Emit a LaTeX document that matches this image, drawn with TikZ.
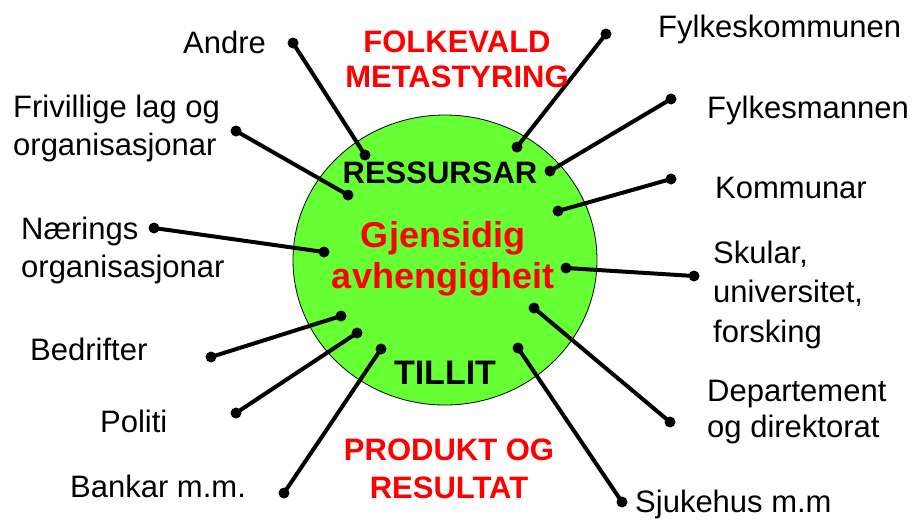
\documentclass[tikz,border=0pt]{standalone}
\usepackage{fontspec}
\setmainfont{Liberation Sans}
\usetikzlibrary{shapes.geometric}
\definecolor{hubgreen}{RGB}{102, 255, 51}
\definecolor{hubred}{RGB}{255, 0, 0}
\tikzset{
    hub/.style={
        ellipse,
        draw=black,
        line width=0.8pt,
        fill=hubgreen,
        minimum width=304pt,
        minimum height=290pt
    },
    actor/.style={
        anchor=base west,
        align=left,
        inner sep=0pt,
        font=\fontsize{31}{38}\selectfont
    },
    keyword/.style={
        anchor=base,
        align=center,
        inner sep=0pt,
        font=\bfseries\fontsize{31}{36}\selectfont
    },
    dot/.style={
        circle,
        fill=black,
        inner sep=0pt,
        minimum size=11pt
    },
    link/.style={
        line width=4pt
    }
}
\begin{document}
\begin{tikzpicture}[x=1pt, y=-1pt]
    \useasboundingbox (0,0) rectangle (915,520);
    \node[hub] (hub) at (445,260) {};

    % dots on the hub
    \node[dot] (andreIn)  at (365,155) {};
    \node[dot] (frivIn)   at (348,195) {};
    \node[dot] (naerIn)   at (324,252) {};
    \node[dot] (bedrIn)   at (341,316) {};
    \node[dot] (politiIn) at (357,333) {};
    \node[dot] (bankIn)   at (381,349) {};
    \node[dot] (fkIn)     at (517,147) {};
    \node[dot] (fmIn)     at (550,171) {};
    \node[dot] (kommIn)   at (558,211) {};
    \node[dot] (skuleIn)  at (566,268) {};
    \node[dot] (depIn)    at (534,308) {};
    \node[dot] (sjukIn)   at (518,348) {};

    % dots at the labels
    \node[dot] (andreOut)  at (293,43) {};
    \node[dot] (frivOut)   at (236,131) {};
    \node[dot] (naerOut)   at (154,228) {};
    \node[dot] (bedrOut)   at (211,357) {};
    \node[dot] (politiOut) at (236,413) {};
    \node[dot] (bankOut)   at (284,493) {};
    \node[dot] (fkOut)     at (606,34) {};
    \node[dot] (fmOut)     at (671,99) {};
    \node[dot] (kommOut)   at (671,179) {};
    \node[dot] (skuleOut)  at (694,276) {};
    \node[dot] (depOut)    at (670,422) {};
    \node[dot] (sjukOut)   at (622,502) {};

    \draw[link] (andreOut.center) -- (andreIn.center);
    \draw[link] (frivOut.center) -- (frivIn.center);
    \draw[link] (naerOut.center) -- (naerIn.center);
    \draw[link] (bedrOut.center) -- (bedrIn.center);
    \draw[link] (politiOut.center) -- (politiIn.center);
    \draw[link] (bankOut.center) -- (bankIn.center);
    \draw[link] (fkOut.center) -- (fkIn.center);
    \draw[link] (fmOut.center) -- (fmIn.center);
    \draw[link] (kommOut.center) -- (kommIn.center);
    \draw[link] (skuleOut.center) -- (skuleIn.center);
    \draw[link] (depOut.center) -- (depIn.center);
    \draw[link] (sjukOut.center) -- (sjukIn.center);

    % actors (base = last line)
    \node[actor] (andre)  at (183,53) {Andre};
    \node[actor] (friv)   at (13,155) {Frivillige lag og\\organisasjonar};
    \node[actor] (naer)   at (21,277) {Nærings\\organisasjonar};
    \node[actor] (bedr)   at (30,360) {Bedrifter};
    \node[actor] (politi) at (100,432) {Politi};
    \node[actor] (bank)   at (70,497) {Bankar m.m.};
    \node[actor] (fk)     at (658,37) {Fylkeskommunen};
    \node[actor] (fm)     at (707,118) {Fylkesmannen};
    \node[actor] (komm)   at (715,198) {Kommunar};
    \node[actor, font=\fontsize{31}{39.5}\selectfont] (skule) at (713,342) {Skular,\\universitet,\\forsking};
    \node[actor, font=\fontsize{31}{36}\selectfont] (dep) at (707,437) {Departement\\og direktorat};
    \node[actor] (sjuk)   at (635,512) {Sjukehus m.m};

    % keywords
    \node[keyword, text=hubred, font=\bfseries\fontsize{31}{35}\selectfont] (folkevald) at (457,87) {FOLKEVALD\\METASTYRING};
    \node[keyword] (ressursar) at (440,183) {RESSURSAR};
    \node[keyword, text=hubred, font=\bfseries\fontsize{36}{41}\selectfont] (gjensidig) at (443,288) {Gjensidig\\avhengigheit};
    \node[keyword, font=\bfseries\fontsize{34}{38}\selectfont] (tillit) at (445,384) {TILLIT};
    \node[keyword, text=hubred, font=\bfseries\fontsize{31}{38}\selectfont] (produkt) at (449,498) {PRODUKT OG\\RESULTAT};
\end{tikzpicture}
\end{document}
